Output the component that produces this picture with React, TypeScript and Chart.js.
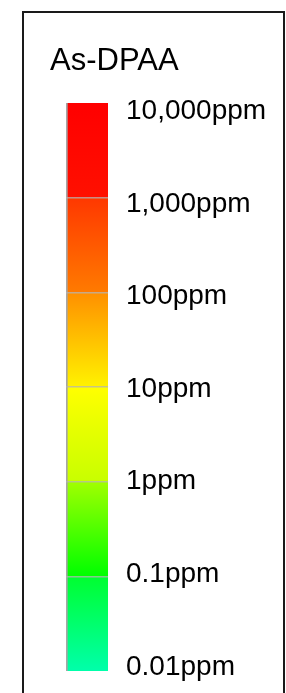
import React, { useEffect, useRef } from 'react';
import { Chart, registerables } from 'chart.js';

Chart.register(...registerables);

const titleText = 'As-DPAA';
const categories = ['As-DPAA'];
const tickValues = [10000, 1000, 100, 10, 1, 0.1, 0.01];
const tickLabels = ['10,000ppm', '1,000ppm', '100ppm', '10ppm', '1ppm', '0.1ppm', '0.01ppm'];
const barRange: [number, number] = [0.01, 10000];
// colour at top and bottom of each decade band (top band first)
const bandTopColors = ['#ff0000', '#ff3800', '#ff9000', '#ffff00', '#a0ff00', '#00ff30'];
const bandBottomColors = ['#ff1000', '#ff7a00', '#fff200', '#c8ff00', '#00ff00', '#00ffaa'];

const W = 286;
const H = 693;

const framePlugin = {
  id: 'frame',
  beforeDraw(chart: any) {
    const ctx = chart.ctx;
    ctx.save();
    ctx.fillStyle = '#ffffff';
    ctx.fillRect(0, 0, chart.width, chart.height);
    ctx.restore();
  },
  afterDraw(chart: any) {
    const ctx = chart.ctx;
    ctx.save();
    ctx.strokeStyle = '#1a1a1a';
    ctx.lineWidth = 2;
    ctx.beginPath();
    ctx.moveTo(23, chart.height + 5);
    ctx.lineTo(23, 12);
    ctx.lineTo(284, 12);
    ctx.lineTo(284, chart.height + 5);
    ctx.stroke();
    ctx.fillStyle = '#000000';
    ctx.font = '31px "Liberation Sans", Arial, sans-serif';
    ctx.textBaseline = 'alphabetic';
    ctx.textAlign = 'left';
    ctx.fillText(titleText, 50, 70);
    ctx.restore();
  },
};

function makeGradient(chart: any) {
  const area = chart.chartArea;
  const yScale = chart.scales.y;
  if (!area || !yScale) return bandTopColors[0];
  const g = chart.ctx.createLinearGradient(0, area.top, 0, area.bottom);
  const h = area.bottom - area.top;
  for (let i = 0; i < tickValues.length - 1; i++) {
    const p0 = (yScale.getPixelForValue(tickValues[i]) - area.top) / h;
    const p1 = (yScale.getPixelForValue(tickValues[i + 1]) - area.top) / h;
    const c = (v: number) => Math.min(1, Math.max(0, v));
    g.addColorStop(c(p0 + 0.001), bandTopColors[i]);
    g.addColorStop(c(p1 - 0.001), bandBottomColors[i]);
  }
  return g;
}

export default function App() {
  const ref = useRef<HTMLCanvasElement | null>(null);

  useEffect(() => {
    document.body.style.margin = '0';
    const canvas = ref.current;
    if (!canvas) return;
    const labelTopExtra = 0.088;
    const labelBottomExtra = 0.043;
    const chart = new Chart(canvas, {
      type: 'bar',
      data: {
        labels: categories,
        datasets: [
          {
            data: [barRange] as any,
            yAxisID: 'y',
            backgroundColor: (c: any) => makeGradient(c.chart),
            borderColor: '#a6a6a6',
            borderWidth: { left: 2, right: 0, top: 0, bottom: 0 } as any,
            borderSkipped: false,
            barPercentage: 1,
            categoryPercentage: 1,
          },
        ],
      },
      options: {
        responsive: false,
        animation: false,
        devicePixelRatio: 1,
        layout: { padding: { left: 66, right: 0, top: 103, bottom: 22 } },
        plugins: {
          legend: { display: false },
          tooltip: { enabled: false },
          title: { display: false },
        },
        scales: {
          x: { display: false },
          y: {
            type: 'logarithmic',
            position: 'left',
            min: barRange[0],
            max: barRange[1],
            afterBuildTicks: (s: any) => {
              s.ticks = tickValues.map((v) => ({ value: v }));
            },
            afterFit: (s: any) => {
              s.width = 0;
              s.paddingTop = 0;
              s.paddingBottom = 0;
            },
            ticks: { display: false },
            border: { display: false },
            grid: {
              z: 1,
              drawTicks: false,
              lineWidth: 1.5,
              color: (c: any) =>
                c.tick && (c.tick.value === tickValues[0] || c.tick.value === tickValues[tickValues.length - 1])
                  ? 'rgba(0,0,0,0)'
                  : 'rgba(180,180,180,0.75)',
            },
          },
          y2: {
            type: 'logarithmic',
            position: 'right',
            min: Math.pow(10, Math.log10(tickValues[tickValues.length - 1]) - labelBottomExtra),
            max: Math.pow(10, Math.log10(tickValues[0]) + labelTopExtra),
            afterBuildTicks: (s: any) => {
              s.ticks = tickValues.map((v) => ({ value: v }));
            },
            afterFit: (s: any) => {
              s.width = 178;
              s.paddingTop = 0;
              s.paddingBottom = 0;
            },
            border: { display: false },
            grid: { display: false, drawTicks: false },
            ticks: {
              autoSkip: false,
              padding: 18,
              color: '#000000',
              font: { family: '"Liberation Sans", Arial, sans-serif', size: 28 },
              callback: (_v: any, i: number) => tickLabels[i],
            },
          },
        },
      },
      plugins: [framePlugin],
    });
    return () => chart.destroy();
  }, []);

  return (
    <div style={{ width: W, height: H, overflow: 'hidden' }}>
      <canvas ref={ref} width={W} height={H} style={{ display: 'block', width: W, height: H }} />
    </div>
  );
}
